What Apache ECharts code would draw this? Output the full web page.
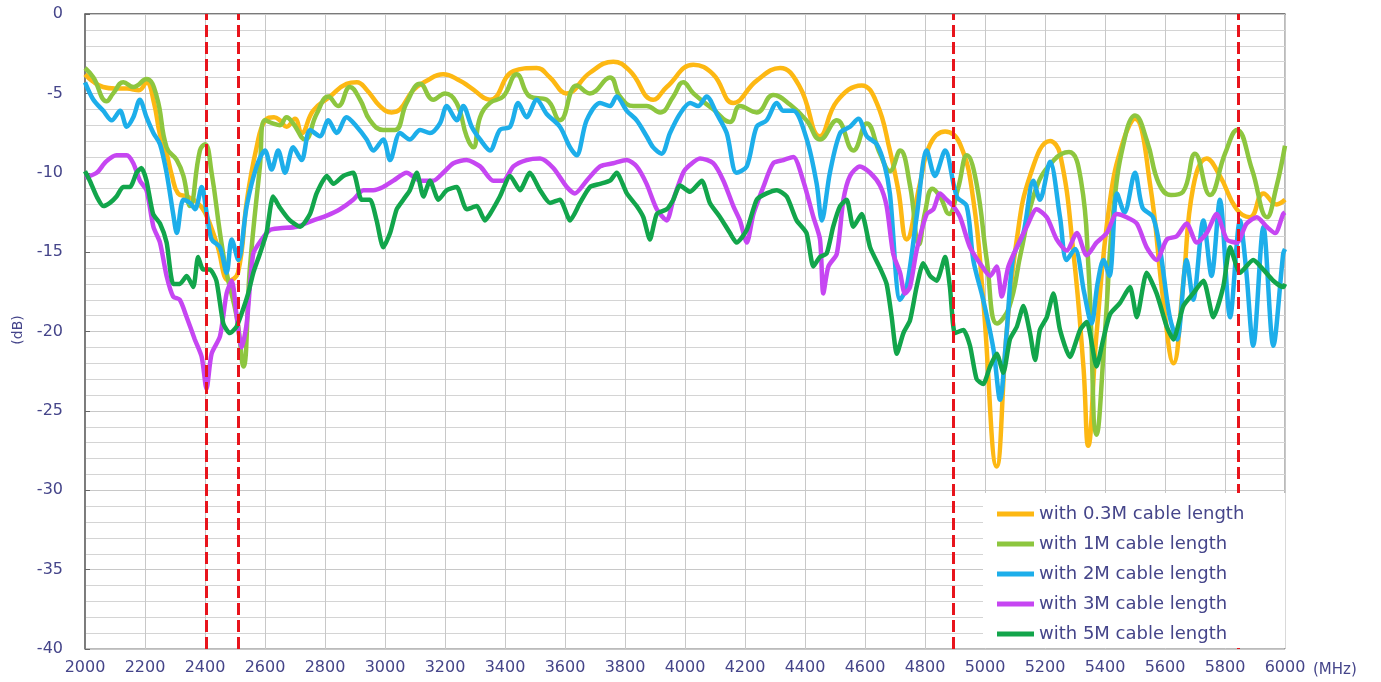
<!DOCTYPE html>
<html><head><meta charset="utf-8">
<script src="https://cdn.jsdelivr.net/npm/echarts@6/dist/echarts.min.js"></script>
<style>html,body{margin:0;padding:0;background:#fff}#c{width:1381px;height:682px}</style>
</head><body><div id="c"></div><script>
// Frequency axis (MHz) and level axis (dB)
const xTicks = {min: 2000, max: 6000, step: 200};
const yTicks = {min: -40, max: 0, step: 5, minorStep: 1};
const bandEdges = [2405, 2510, 4895, 5845];
const seriesNames = ['with 0.3M cable length','with 1M cable length','with 2M cable length','with 3M cable length','with 5M cable length'];

const len03 = [[2000,-3.8],[2030,-4.3],[2060,-4.6],[2100,-4.7],[2140,-4.7],[2180,-4.8],[2205,-4.3],[2230,-5.6],[2250,-7.6],[2272,-8.8],[2290,-10.2],[2310,-11.3],[2340,-11.5],[2370,-11.8],[2400,-12.5],[2440,-14.5],[2480,-16.8],[2510,-16.3],[2540,-11.7],[2572,-8.4],[2600,-6.7],[2630,-6.5],[2650,-6.7],[2672,-7.1],[2700,-6.6],[2722,-7.5],[2760,-6.1],[2817,-5.2],[2872,-4.4],[2906,-4.3],[2940,-4.8],[2983,-5.8],[3022,-6.2],[3050,-6.0],[3094,-4.8],[3139,-4.2],[3194,-3.8],[3250,-4.2],[3283,-4.6],[3350,-5.4],[3428,-3.6],[3505,-3.4],[3550,-4.0],[3605,-5.0],[3683,-3.7],[3761,-3.0],[3817,-3.6],[3894,-5.4],[3939,-4.6],[4028,-3.2],[4094,-3.8],[4161,-5.6],[4239,-4.2],[4317,-3.4],[4383,-4.6],[4450,-7.7],[4506,-5.5],[4589,-4.5],[4639,-5.6],[4683,-8.6],[4711,-11.1],[4739,-14.2],[4783,-10.7],[4817,-8.2],[4867,-7.4],[4917,-8.2],[4961,-11.7],[4994,-18.0],[5039,-28.5],[5072,-20.1],[5106,-14.2],[5150,-10.2],[5217,-8.0],[5250,-8.8],[5294,-14.9],[5328,-22.2],[5344,-27.2],[5372,-20.1],[5417,-11.7],[5461,-8.0],[5500,-6.6],[5550,-10.7],[5594,-18.0],[5628,-22.0],[5661,-16.9],[5694,-10.9],[5739,-9.1],[5783,-10.2],[5839,-12.3],[5883,-12.8],[5928,-11.3],[5972,-12.0],[6000,-11.7]];

const len1 = [[2000,-3.4],[2028,-4.0],[2072,-5.5],[2094,-5.0],[2128,-4.3],[2161,-4.6],[2205,-4.1],[2239,-5.2],[2272,-8.4],[2306,-9.2],[2328,-10.2],[2350,-12.1],[2383,-8.6],[2400,-8.2],[2422,-10.0],[2450,-13.8],[2472,-16.3],[2506,-19.1],[2528,-22.2],[2550,-15.9],[2583,-9.6],[2600,-6.7],[2628,-6.9],[2650,-7.0],[2672,-6.5],[2694,-6.9],[2733,-7.9],[2772,-6.3],[2811,-5.2],[2844,-5.8],[2883,-4.6],[2917,-5.4],[2950,-6.7],[2994,-7.3],[3033,-7.3],[3072,-5.6],[3117,-4.4],[3161,-5.4],[3200,-5.0],[3239,-5.6],[3272,-7.7],[3294,-8.4],[3317,-6.5],[3350,-5.6],[3394,-5.2],[3439,-3.8],[3483,-5.2],[3539,-5.4],[3583,-6.7],[3639,-4.5],[3683,-5.0],[3750,-4.0],[3783,-5.2],[3828,-5.8],[3872,-5.8],[3917,-6.2],[3961,-5.2],[3994,-4.3],[4028,-5.0],[4094,-6.0],[4150,-6.8],[4183,-5.8],[4239,-6.2],[4294,-5.1],[4350,-5.7],[4405,-6.7],[4450,-7.9],[4506,-6.7],[4561,-8.6],[4606,-6.9],[4650,-8.8],[4683,-9.9],[4717,-8.6],[4750,-10.8],[4780,-14.5],[4800,-12.5],[4825,-11.0],[4850,-11.5],[4880,-12.6],[4910,-11.0],[4940,-8.9],[4972,-10.7],[5006,-15.5],[5040,-19.5],[5080,-18.5],[5120,-15.0],[5170,-11.0],[5230,-9.2],[5280,-8.7],[5320,-10.5],[5345,-16.0],[5372,-26.5],[5400,-20.0],[5430,-12.0],[5470,-7.5],[5500,-6.4],[5540,-8.0],[5580,-10.7],[5620,-11.4],[5660,-11.2],[5700,-8.8],[5750,-11.4],[5800,-8.8],[5840,-7.3],[5890,-9.8],[5940,-12.8],[5970,-11.0],[6000,-8.3]];

const len2 = [[2000,-4.3],[2028,-5.4],[2061,-6.1],[2089,-6.7],[2117,-6.1],[2139,-7.1],[2161,-6.5],[2183,-5.4],[2205,-6.5],[2228,-7.5],[2250,-8.2],[2272,-10.0],[2294,-12.6],[2306,-13.8],[2328,-11.7],[2350,-11.9],[2367,-12.3],[2389,-10.9],[2406,-12.6],[2422,-14.2],[2450,-14.7],[2472,-16.3],[2489,-14.2],[2511,-15.5],[2539,-12.1],[2572,-9.6],[2600,-8.6],[2622,-9.8],[2644,-8.6],[2667,-10.0],[2694,-8.4],[2722,-9.2],[2750,-7.3],[2783,-7.7],[2811,-6.7],[2839,-7.5],[2872,-6.5],[2906,-7.1],[2939,-7.9],[2961,-8.6],[2994,-7.9],[3017,-9.2],[3050,-7.5],[3083,-7.9],[3117,-7.3],[3150,-7.5],[3183,-6.9],[3206,-5.8],[3239,-6.7],[3261,-5.8],[3289,-7.1],[3317,-7.9],[3350,-8.6],[3383,-7.3],[3417,-7.1],[3444,-5.6],[3472,-6.5],[3506,-5.4],[3539,-6.3],[3583,-7.1],[3617,-8.4],[3639,-8.9],[3672,-6.7],[3717,-5.6],[3750,-5.8],[3772,-5.2],[3806,-6.1],[3839,-6.7],[3872,-7.7],[3894,-8.4],[3922,-8.8],[3950,-7.5],[3983,-6.3],[4017,-5.6],[4044,-5.8],[4072,-5.2],[4106,-6.3],[4139,-7.5],[4172,-10.0],[4206,-9.6],[4239,-7.1],[4272,-6.7],[4306,-5.6],[4328,-6.1],[4361,-6.1],[4406,-7.9],[4439,-10.7],[4456,-13.0],[4483,-10.0],[4517,-7.5],[4550,-7.1],[4578,-6.6],[4606,-7.7],[4639,-8.2],[4665,-9.5],[4683,-11.3],[4717,-18.0],[4739,-17.2],[4772,-12.8],[4806,-8.6],[4833,-10.2],[4867,-8.6],[4906,-11.5],[4939,-12.1],[4961,-15.5],[4994,-18.0],[5028,-21.1],[5050,-24.3],[5072,-20.1],[5094,-15.3],[5128,-13.8],[5161,-10.5],[5183,-11.7],[5217,-9.3],[5250,-12.8],[5272,-15.5],[5300,-14.8],[5330,-17.5],[5355,-19.5],[5375,-17.0],[5395,-15.5],[5415,-16.5],[5440,-11.3],[5465,-12.5],[5500,-10.0],[5525,-12.2],[5560,-12.8],[5585,-15.0],[5615,-19.0],[5640,-20.5],[5672,-15.5],[5694,-18.0],[5728,-13.0],[5755,-16.5],[5783,-11.7],[5817,-19.1],[5850,-13.0],[5870,-16.0],[5894,-20.9],[5928,-13.4],[5961,-20.9],[5994,-15.1],[6000,-14.8]];

const len3 = [[2000,-10.3],[2039,-10.0],[2070,-9.3],[2105,-8.9],[2139,-8.9],[2161,-9.4],[2183,-10.5],[2205,-11.1],[2228,-13.4],[2250,-14.4],[2272,-16.5],[2294,-17.8],[2316,-18.0],[2339,-19.1],[2366,-20.5],[2389,-21.6],[2405,-23.6],[2422,-21.4],[2450,-20.3],[2472,-17.6],[2489,-16.8],[2506,-19.1],[2522,-21.0],[2539,-19.5],[2561,-15.1],[2589,-14.2],[2617,-13.6],[2650,-13.5],[2706,-13.4],[2761,-13.0],[2806,-12.7],[2850,-12.3],[2894,-11.7],[2928,-11.1],[2961,-11.1],[2994,-10.9],[3028,-10.5],[3072,-10.0],[3117,-10.5],[3161,-10.5],[3194,-10.0],[3228,-9.4],[3272,-9.2],[3317,-9.6],[3361,-10.5],[3394,-10.5],[3428,-9.6],[3472,-9.2],[3517,-9.1],[3561,-9.7],[3606,-10.9],[3633,-11.3],[3672,-10.5],[3717,-9.6],[3761,-9.4],[3806,-9.2],[3839,-9.6],[3872,-10.7],[3906,-12.3],[3939,-13.0],[3961,-11.7],[3994,-10.0],[4017,-9.5],[4050,-9.1],[4094,-9.4],[4128,-10.5],[4161,-12.1],[4183,-13.0],[4206,-14.4],[4228,-12.6],[4261,-10.9],[4294,-9.4],[4328,-9.2],[4361,-9.0],[4394,-10.5],[4428,-12.8],[4450,-14.2],[4461,-17.6],[4478,-15.9],[4506,-15.1],[4528,-11.7],[4550,-10.2],[4583,-9.6],[4617,-10.0],[4650,-10.8],[4672,-12.1],[4694,-15.1],[4717,-16.3],[4733,-17.6],[4750,-17.2],[4772,-14.9],[4806,-12.6],[4828,-12.3],[4850,-11.3],[4872,-11.7],[4894,-12.1],[4917,-12.8],[4950,-14.7],[4983,-15.7],[5017,-16.5],[5039,-15.9],[5056,-17.8],[5078,-15.9],[5106,-14.7],[5139,-13.4],[5172,-12.3],[5206,-12.8],[5239,-14.2],[5272,-14.9],[5306,-13.8],[5339,-15.2],[5372,-14.4],[5406,-13.8],[5439,-12.6],[5472,-12.8],[5506,-13.2],[5539,-14.7],[5572,-15.5],[5606,-14.2],[5639,-14.0],[5672,-13.2],[5706,-14.4],[5739,-13.8],[5772,-12.6],[5806,-14.2],[5839,-14.4],[5872,-13.2],[5906,-12.8],[5939,-13.4],[5967,-13.8],[5994,-12.6],[6000,-12.5]];

const len5 = [[2000,-9.9],[2016,-10.5],[2039,-11.5],[2061,-12.1],[2083,-11.9],[2105,-11.5],[2127,-10.9],[2150,-10.9],[2172,-10.0],[2188,-9.7],[2205,-10.5],[2227,-12.6],[2250,-13.2],[2272,-14.4],[2294,-17.0],[2316,-17.0],[2339,-16.5],[2361,-17.2],[2377,-15.3],[2394,-16.1],[2416,-16.1],[2438,-16.8],[2461,-19.5],[2483,-20.1],[2505,-19.7],[2527,-18.6],[2544,-17.6],[2561,-16.3],[2583,-15.1],[2605,-13.8],[2627,-11.5],[2650,-12.2],[2683,-13.0],[2717,-13.4],[2750,-12.6],[2772,-11.3],[2806,-10.2],[2828,-10.7],[2861,-10.2],[2894,-10.0],[2922,-11.7],[2950,-11.7],[2972,-13.0],[2994,-14.7],[3017,-13.8],[3039,-12.3],[3061,-11.7],[3083,-11.1],[3106,-10.0],[3128,-11.5],[3150,-10.5],[3178,-11.7],[3206,-11.1],[3239,-10.9],[3272,-12.3],[3306,-12.1],[3333,-13.0],[3350,-12.6],[3383,-11.5],[3417,-10.2],[3450,-11.1],[3483,-10.0],[3517,-11.1],[3550,-11.9],[3583,-11.7],[3617,-13.0],[3650,-11.9],[3683,-10.9],[3717,-10.7],[3750,-10.5],[3772,-10.0],[3806,-11.3],[3839,-12.1],[3861,-12.8],[3883,-14.2],[3906,-12.6],[3939,-12.3],[3961,-11.7],[3983,-10.8],[4017,-11.2],[4056,-10.5],[4083,-11.9],[4117,-12.8],[4150,-13.8],[4172,-14.4],[4206,-13.6],[4239,-11.7],[4272,-11.3],[4306,-11.1],[4339,-11.5],[4372,-13.0],[4405,-13.8],[4428,-15.9],[4450,-15.3],[4472,-15.1],[4494,-13.4],[4517,-12.1],[4539,-11.7],[4561,-13.4],[4589,-12.6],[4617,-14.7],[4650,-16.0],[4672,-17.0],[4689,-19.1],[4706,-21.4],[4728,-20.1],[4750,-19.3],[4772,-17.2],[4794,-15.7],[4817,-16.5],[4839,-16.8],[4867,-15.3],[4883,-17.2],[4900,-20.1],[4928,-19.9],[4950,-20.9],[4972,-23.0],[4994,-23.3],[5017,-22.2],[5039,-21.4],[5061,-22.6],[5083,-20.5],[5106,-19.7],[5128,-18.4],[5150,-20.1],[5167,-21.8],[5183,-19.9],[5206,-19.1],[5228,-17.6],[5250,-19.9],[5283,-21.6],[5317,-19.9],[5339,-19.4],[5372,-22.2],[5394,-20.5],[5417,-18.9],[5450,-18.2],[5483,-17.2],[5506,-19.1],[5539,-16.3],[5572,-17.6],[5606,-19.7],[5628,-20.5],[5661,-18.4],[5694,-17.6],[5728,-16.8],[5761,-19.1],[5794,-17.2],[5817,-14.7],[5850,-16.3],[5894,-15.5],[5928,-16.1],[5961,-16.8],[5994,-17.2],[6000,-17.0]];

const seriesData = [len03, len1, len2, len3, len5];
const colors = ['#FDB813', '#8DC63F', '#1DAEEA', '#C646F2', '#12A54B'];
const smoothness = [0.45, 0.45, 0.3, 0.25, 0.2];
const txt = '#45458a';
const font = 'DejaVu Sans';

const chart = echarts.init(document.getElementById('c'), null, {renderer: 'canvas'});
const series = seriesNames.map((name, i) => ({
  name, type: 'line', data: seriesData[i], showSymbol: false, smooth: smoothness[i],
  color: colors[i], lineStyle: {width: 4.5, color: colors[i]}, z: 2
}));
series.push({
  name: 'bands', type: 'line', data: [], z: 3, silent: true,
  markLine: {
    silent: true, symbol: ['none', 'none'], label: {show: false},
    lineStyle: {color: '#E8141C', type: [12, 5], width: 3},
    data: bandEdges.map(v => ({xAxis: v}))
  }
});

chart.setOption({
  animation: false,
  backgroundColor: '#fff',
  grid: {left: 85, right: 96, top: 14, bottom: 33, show: true, borderColor: '#777', borderWidth: 1},
  xAxis: {
    type: 'value', min: xTicks.min, max: xTicks.max, interval: xTicks.step,
    axisLine: {show: true, lineStyle: {color: '#666', width: 1.5}},
    axisTick: {show: false},
    axisLabel: {color: txt, fontSize: 16, fontFamily: font, margin: 11, formatter: v => String(v)},
    splitLine: {show: true, lineStyle: {color: '#c8c8c8', width: 1}}
  },
  yAxis: [{
    type: 'value', min: yTicks.min, max: yTicks.max, interval: yTicks.step,
    axisLine: {show: true, lineStyle: {color: '#666', width: 1.5}},
    axisTick: {show: true, inside: true, length: 5, lineStyle: {color: '#666'}},
    axisLabel: {color: txt, fontSize: 16, fontFamily: font, margin: 22, formatter: v => String(v)},
    splitLine: {show: true, lineStyle: {color: '#c8c8c8', width: 1}},
    z: 1
  }, {
    type: 'value', min: yTicks.min, max: yTicks.max, interval: yTicks.minorStep, position: 'left',
    axisLine: {show: false}, axisTick: {show: false}, axisLabel: {show: false},
    splitLine: {show: true, lineStyle: {color: '#d4d4d4', width: 1}},
    z: 0
  }],
  legend: {
    data: seriesNames, orient: 'vertical', left: 983, top: 493,
    backgroundColor: '#fff', padding: [11, 41, 4, 14], itemGap: 10,
    icon: 'rect', itemWidth: 37, itemHeight: 5, z: 10,
    textStyle: {color: txt, fontSize: 18, fontFamily: font, lineHeight: 20}
  },
  graphic: [
    {type: 'text', x: 18, y: 330, rotation: Math.PI / 2, z: 20,
     style: {text: '(dB)', fill: txt, font: '14px "DejaVu Sans"', textAlign: 'center', textVerticalAlign: 'middle'}},
    {type: 'text', x: 1313, y: 670, z: 20,
     style: {text: '(MHz)', fill: txt, font: '15px "DejaVu Sans"', textAlign: 'left', textVerticalAlign: 'middle'}}
  ],
  series
});
</script></body></html>
